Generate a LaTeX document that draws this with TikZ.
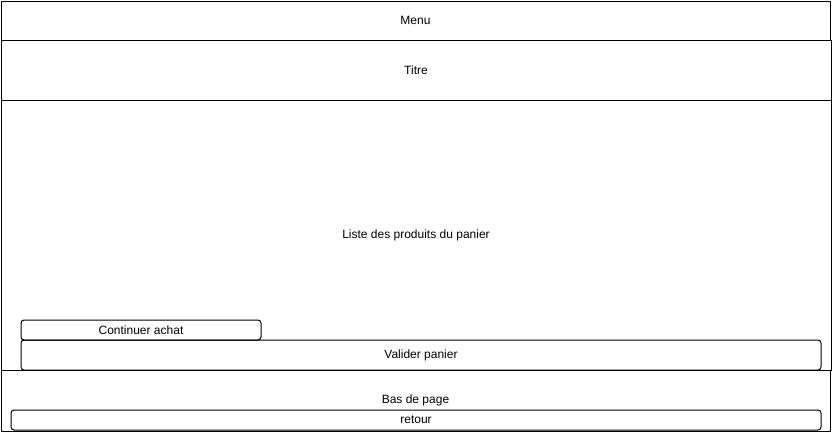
\documentclass[tikz,border=0pt]{standalone}
\usepackage{fontspec}
\setmainfont{Liberation Sans}
\usepackage{tikz}
\usetikzlibrary{positioning}

\begin{document}
\begin{tikzpicture}[x=1pt, y=-1pt,
    zone/.style={draw, line width=1pt, inner sep=0pt, font=\fontsize{12}{14}\selectfont},
    bouton/.style={zone, rounded corners=3pt}]

        % fixed page size
        \useasboundingbox (0,0) rectangle (832,432);

        % page zones, top to bottom
        \node[zone, minimum width=829pt, minimum height=39pt] (menu) at (415.5,20.5) {Menu};
        \node[zone, minimum width=830pt, minimum height=60pt] (titre) at (416,70) {Titre};
        \node[zone, minimum width=830pt, minimum height=270pt] (liste) at (416,235) {Liste des produits du panier};
        \node[zone, minimum width=829pt, minimum height=61pt] (bas) at (415.5,400.5) {Bas de page};

        % buttons
        \node[bouton, minimum width=240pt, minimum height=20pt] (continuer) at (141,330) {Continuer achat};
        \node[bouton, minimum width=800pt, minimum height=30pt] (valider) at (421,355) {Valider panier};
        \node[bouton, minimum width=810pt, minimum height=20pt] (retour) at (416,420) {retour};

    \end{tikzpicture}
\end{document}
